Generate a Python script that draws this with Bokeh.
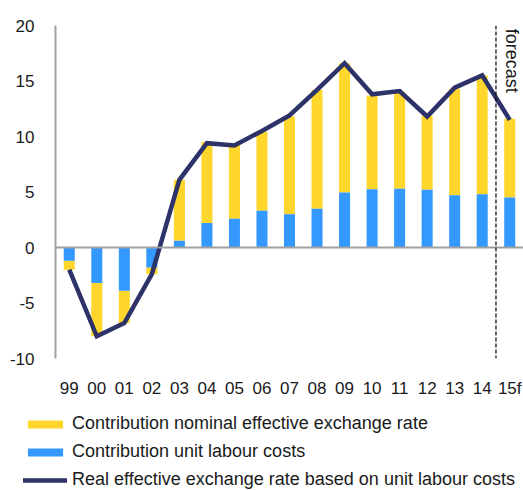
from bokeh.plotting import figure
from bokeh.models import ColumnDataSource, Legend, LegendItem, Span, FixedTicker
from bokeh.core.properties import value
from bokeh.embed import file_html
from bokeh.resources import INLINE

years = ["99", "00", "01", "02", "03", "04", "05", "06", "07", "08",
         "09", "10", "11", "12", "13", "14", "15f"]
ulc = [-1.2, -3.2, -3.9, -1.8, 0.6, 2.2, 2.6, 3.3, 3.0, 3.5,
       4.95, 5.25, 5.3, 5.2, 4.7, 4.8, 4.5]
neer = [-0.8, -4.8, -2.9, -0.6, 5.5, 7.3, 6.65, 7.1, 8.8, 10.7,
        11.65, 8.45, 8.7, 6.7, 9.6, 10.7, 7.1]
reer = [-2.0, -8.0, -6.8, -2.4, 6.1, 9.4, 9.2, 10.5, 11.9, 14.2,
        16.6, 13.8, 14.1, 11.8, 14.4, 15.5, 11.5]
yticks = [-10, -5, 0, 5, 10, 15, 20]
ytick_labels = ["-10", "-5", "0", "5", "10", "15", "20"]
legend_labels = ["Contribution nominal effective exchange rate",
                 "Contribution unit labour costs",
                 "Real effective exchange rate based on unit labour costs"]

FONT = "Liberation Sans"
YEL = "#FFD62B"
BLUE = "#3399FF"
NAVY = "#2D3269"
GREY = "#A0A0A0"
TXT = "#1a1a1a"

x = list(range(len(years)))
ulc_bottom = [0] * len(x)
ulc_top = ulc
neer_bottom = ulc
neer_top = [u + n for u, n in zip(ulc, neer)]

src = ColumnDataSource(dict(x=x, ulc_b=ulc_bottom, ulc_t=ulc_top,
                            neer_b=neer_bottom, neer_t=neer_top, reer=reer))

p = figure(width=523, height=400, output_backend="svg", toolbar_location=None,
           x_range=(-0.5, 16.5), y_range=(-10, 20),
           min_border_left=55, min_border_right=0, min_border_top=25,
           min_border_bottom=36)
p.outline_line_color = None
p.background_fill_color = None
p.border_fill_color = None
p.grid.visible = False

p.vbar(x="x", bottom="neer_b", top="neer_t", width=0.4, source=src,
       fill_color=YEL, line_color=None)
p.vbar(x="x", bottom="ulc_b", top="ulc_t", width=0.4, source=src,
       fill_color=BLUE, line_color=None)

p.add_layout(Span(location=0, dimension="width", line_color=GREY, line_width=2))
p.add_layout(Span(location=15.5, dimension="height", line_color="black",
                  line_width=1.2, line_dash="4 2"))

p.line(x="x", y="reer", source=src, line_color=NAVY, line_width=4.5,
       line_join="miter")

p.text(x=[16.1], y=[19.7], text=["forecast"], angle=-1.5708,
       text_font=value(FONT), text_font_size="18px", text_color=TXT,
       text_align="left", text_baseline="middle")

p.yaxis.ticker = FixedTicker(ticks=yticks)
p.yaxis.major_label_overrides = {t: l for t, l in zip(yticks, ytick_labels)}
p.yaxis.axis_line_color = GREY
p.yaxis.axis_line_width = 2
p.yaxis.major_tick_line_color = None
p.yaxis.minor_tick_line_color = None
p.yaxis.major_label_standoff = 15
p.yaxis.major_label_text_font = FONT
p.yaxis.major_label_text_font_size = "17px"
p.yaxis.major_label_text_color = TXT

p.xaxis.ticker = FixedTicker(ticks=x)
p.xaxis.major_label_overrides = {i: y for i, y in zip(x, years)}
p.xaxis.axis_line_color = None
p.xaxis.major_tick_line_color = None
p.xaxis.minor_tick_line_color = None
p.xaxis.major_label_standoff = 14
p.xaxis.major_label_text_font = FONT
p.xaxis.major_label_text_font_size = "17px"
p.xaxis.major_label_text_color = TXT

# legend panel (swatch renderers sit outside the visible range)
lg = figure(width=523, height=90, output_backend="svg", toolbar_location=None,
            x_range=(0, 1), y_range=(0, 1), min_border=0,
            x_axis_location=None, y_axis_location=None)
lg.outline_line_color = None
lg.background_fill_color = None
lg.border_fill_color = None
lg.grid.visible = False
s_yel = lg.vbar(x=[5], bottom=[4], top=[5], width=0.4, fill_color=YEL, line_color=None)
s_blue = lg.vbar(x=[5], bottom=[4], top=[5], width=0.4, fill_color=BLUE, line_color=None)
s_line = lg.line(x=[5, 6], y=[5, 5], line_color=NAVY, line_width=4.5, line_cap="round")

legend = Legend(items=[
    LegendItem(label=legend_labels[0], renderers=[s_yel]),
    LegendItem(label=legend_labels[1], renderers=[s_blue]),
    LegendItem(label=legend_labels[2], renderers=[s_line]),
], location=(23, 0), orientation="vertical",
    glyph_width=44, glyph_height=10, label_height=20, spacing=7,
    label_standoff=5, padding=0, margin=0,
    border_line_color=None, background_fill_alpha=0,
    label_text_font=FONT, label_text_font_size="18px", label_text_color=TXT)
lg.add_layout(legend, "center")

open("out.html", "w").write(file_html([p, lg], INLINE))
